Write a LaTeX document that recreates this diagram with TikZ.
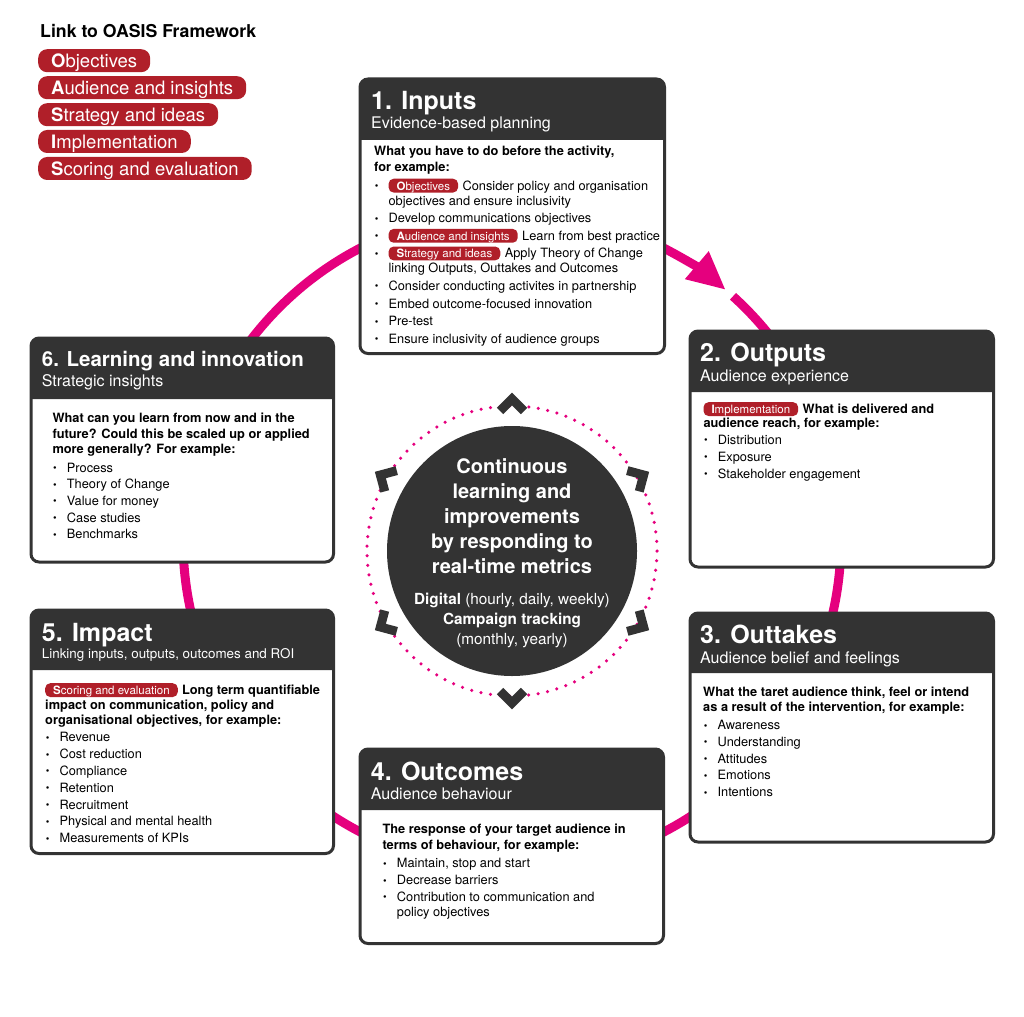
\documentclass[tikz,border=0pt]{standalone}
\usepackage{fontspec}
\setmainfont{TeX Gyre Heros}
\usetikzlibrary{arrows.meta}

\definecolor{oasisred}{HTML}{B01F29}
\definecolor{ringpink}{HTML}{E5007E}
\definecolor{darkgrey}{HTML}{333333}

\tikzset{
  stagebox/.style={draw=darkgrey, line width=3pt, rounded corners=8pt, fill=white},
  stagehead/.style={fill=darkgrey, rounded corners=8pt},
  stagetitle/.style={anchor=base west, inner sep=0pt, text=white, font=\fontsize{25}{30}\selectfont\bfseries},
  stagesub/.style={anchor=base west, inner sep=0pt, text=white, font=\fontsize{16}{19}\selectfont},
  stagetext/.style={anchor=north west, inner sep=0pt, align=left, font=\fontsize{12.8}{15.3}\selectfont},
  oasistag/.style={fill=oasisred, text=white, rounded corners=5pt, inner xsep=8pt, inner ysep=1pt,
    text height=10.3pt, text depth=1.5pt, font=\fontsize{11.5}{12}\selectfont},
  legendhead/.style={anchor=base west, inner sep=0pt, font=\fontsize{17.7}{21}\selectfont\bfseries},
  legendtag/.style={anchor=west, fill=oasisred, text=white, rounded corners=9pt, inner xsep=13pt, inner ysep=1.5pt,
    text height=17.2pt, text depth=2.8pt, font=\fontsize{18.5}{21}\selectfont},
  loopring/.style={draw=ringpink, line width=9pt},
  dotring/.style={draw=ringpink, line width=3.5pt, line cap=round, dash pattern=on 0pt off 9.59pt},
  chevmark/.style={draw=darkgrey, line width=9pt, line join=miter},
  hubtext/.style={anchor=north, inner sep=0pt, align=center, text=white}
}

\newcommand{\dotitem}{\hspace*{0.6pt}\makebox[13.8pt][l]{\raisebox{0.6pt}{\scalebox{0.8}{\textbullet}}}}
\newcommand{\indentitem}{\hspace*{14.4pt}}
\newcommand{\oasis}[2]{\tikz[baseline=(tg.base)]\node[oasistag](tg){\textbf{#1}#2};}

\begin{document}
\begin{tikzpicture}[x=1pt,y=1pt]
\useasboundingbox (0,0) rectangle (1024,-1016);

\coordinate (ringcentre) at (512,-540);
\draw[loopring] (ringcentre) ++(47.8:329) arc[start angle=47.8, end angle=-296, radius=329];
\draw[loopring,-{Triangle[length=38pt,width=34pt]}] (ringcentre) ++(64:329) arc[start angle=64, end angle=49.5, radius=329];

\node[legendhead] (legendtitle) at (40,-38) {Link to OASIS Framework};
\node[legendtag] (leg-o) at (38,-60.7) {\textbf{O}bjectives};
\node[legendtag] (leg-a) at (38,-87.7) {\textbf{A}udience and insights};
\node[legendtag] (leg-s) at (38,-114.7) {\textbf{S}trategy and ideas};
\node[legendtag] (leg-i) at (38,-141.5) {\textbf{I}mplementation};
\node[legendtag] (leg-e) at (38,-168.5) {\textbf{S}coring and evaluation};

\draw[stagebox] (360,-79) rectangle (664.5,-353.5);
\fill[stagehead] (360,-140) -- (360,-79) -- (664.5,-79) -- (664.5,-140);
\draw[stagebox] (690,-331) rectangle (993.5,-567);
\fill[stagehead] (690,-392) -- (690,-331) -- (993.5,-331) -- (993.5,-392);
\draw[stagebox] (690,-613) rectangle (993.5,-842);
\fill[stagehead] (690,-673) -- (690,-613) -- (993.5,-613) -- (993.5,-673);
\draw[stagebox] (360,-749) rectangle (663.5,-943.5);
\fill[stagehead] (360,-810) -- (360,-749) -- (663.5,-749) -- (663.5,-810);
\draw[stagebox] (31,-610) rectangle (333.5,-853.5);
\fill[stagehead] (31,-670) -- (31,-610) -- (333.5,-610) -- (333.5,-670);
\draw[stagebox] (31,-338) rectangle (333.5,-562);
\fill[stagehead] (31,-399) -- (31,-338) -- (333.5,-338) -- (333.5,-399);

\node[stagetitle] (inputs) at (371,-110) {1. Inputs};
\node[stagesub] (inputs-sub) at (371,-128.5) {Evidence-based planning};
\node[stagetext] (inputs-text) at (374,-145.7) {%
\textbf{What you have to do before the activity,}\\[1pt]
\textbf{for example:}\\[3pt]
\dotitem\oasis{O}{bjectives}\hspace{4.5pt}Consider policy and organisation\\[-0.3pt]
\indentitem objectives and ensure inclusivity\\[2.3pt]
\dotitem Develop communications objectives\\[2.3pt]
\dotitem\oasis{A}{udience and insights}\hspace{4.5pt}Learn from best practice\\[2.3pt]
\dotitem\oasis{S}{trategy and ideas}\hspace{4.5pt}Apply Theory of Change\\[-0.3pt]
\indentitem linking Outputs, Outtakes and Outcomes\\[2.3pt]
\dotitem Consider conducting activites in partnership\\[2.3pt]
\dotitem Embed outcome-focused innovation\\[2.3pt]
\dotitem Pre-test\\[2.3pt]
\dotitem Ensure inclusivity of audience groups};

\node[stagetitle] (outputs) at (700,-361.7) {2. Outputs};
\node[stagesub] (outputs-sub) at (700,-381) {Audience experience};
\node[stagetext] (outputs-text) at (703.3,-402) {%
\oasis{I}{mplementation}\hspace{4.5pt}\textbf{What is delivered and}\\[-1.3pt]
\textbf{audience reach, for example:}\\[1.4pt]
\dotitem Distribution\\[1.7pt]
\dotitem Exposure\\[1.7pt]
\dotitem Stakeholder engagement};

\node[stagetitle] (outtakes) at (700,-643.3) {3. Outtakes};
\node[stagesub] (outtakes-sub) at (700,-663.3) {Audience belief and feelings};
\node[stagetext] (outtakes-text) at (703,-686.4) {%
\textbf{What the taret audience think, feel or intend}\\
\textbf{as a result of the intervention, for example:}\\[3pt]
\dotitem Awareness\\[1.45pt]
\dotitem Understanding\\[1.45pt]
\dotitem Attitudes\\[1.45pt]
\dotitem Emotions\\[1.45pt]
\dotitem Intentions};

\node[stagetitle] (outcomes) at (370.7,-780) {4. Outcomes};
\node[stagesub] (outcomes-sub) at (370.7,-799.3) {Audience behaviour};
\node[stagetext] (outcomes-text) at (382.3,-823.4) {%
\textbf{The response of your target audience in}\\[1.3pt]
\textbf{terms of behaviour, for example:}\\[2.7pt]
\dotitem Maintain, stop and start\\[1.6pt]
\dotitem Decrease barriers\\[1.6pt]
\dotitem Contribution to communication and\\
\indentitem policy objectives};

\node[stagetitle] (impact) at (41.7,-641.7) {5. Impact};
\node[stagesub, font=\fontsize{13.4}{16}\selectfont] (impact-sub) at (41.7,-658.3) {Linking inputs, outputs, outcomes and ROI};
\node[stagetext] (impact-text) at (45,-683) {%
\oasis{S}{coring and evaluation}\hspace{4.3pt}\textbf{Long term quantifiable}\\[-0.6pt]
\textbf{impact on communication, policy and}\\[-0.3pt]
\textbf{organisational objectives, for example:}\\[2.4pt]
\dotitem Revenue\\[1.5pt]
\dotitem Cost reduction\\[1.5pt]
\dotitem Compliance\\[1.5pt]
\dotitem Retention\\[1.5pt]
\dotitem Recruitment\\[1.5pt]
\dotitem Physical and mental health\\[1.5pt]
\dotitem Measurements of KPIs};

\node[stagetitle, font=\fontsize{20.5}{24}\selectfont\bfseries] (learning) at (41.7,-366) {6. Learning and innovation};
\node[stagesub] (learning-sub) at (41.7,-386) {Strategic insights};
\node[stagetext] (learning-text) at (52.3,-413) {%
\textbf{What can you learn from now and in the}\\[0.7pt]
\textbf{future? Could this be scaled up or applied}\\[-0.3pt]
\textbf{more generally? For example:}\\[3.1pt]
\dotitem Process\\[1.35pt]
\dotitem Theory of Change\\[1.35pt]
\dotitem Value for money\\[1.35pt]
\dotitem Case studies\\[1.35pt]
\dotitem Benchmarks};

\node[circle, fill=darkgrey, minimum size=250pt, inner sep=0pt] (hub) at (512,-551) {};
\draw[dotring] (hub.center) circle[radius=145];
\foreach \a in {30,90,...,330}
  \draw[chevmark, rotate around={\a-90:(hub.center)}] (500,-411) -- (512,-399) -- (524,-411);

\node[hubtext, font=\fontsize{20}{25}\selectfont\bfseries] (hub-title) at (512,-458.5)
  {Continuous\\learning and\\improvements\\by responding to\\real-time metrics};
\node[hubtext, font=\fontsize{15.3}{19.8}\selectfont] (hub-note) at (512,-592.8)
  {\textbf{Digital} (hourly, daily, weekly)\\\textbf{Campaign tracking}\\(monthly, yearly)};
\end{tikzpicture}
\end{document}
